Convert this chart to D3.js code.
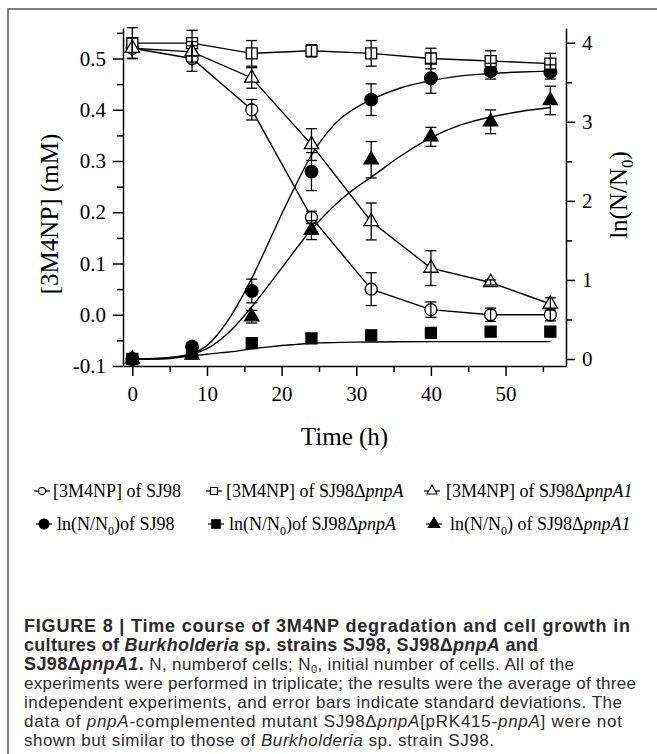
<!DOCTYPE html>
<html lang="en">
<head>
<meta charset="UTF-8">
<title>Figure 8</title>
<script src="https://cdn.jsdelivr.net/npm/d3@7"></script>
<style>
  body { margin: 0; background: #fff; }
  svg { display: block; }
</style>
</head>
<body>
<div id="container"></div>
<script>
// sampling times (h)
const hours = [0, 8, 16, 24, 32, 40, 48, 56];

// [3M4NP] (mM), left axis
const npSJ98 = [0.52, 0.50, 0.40, 0.19, 0.05, 0.01, 0.00, 0.00];
const npSJ98Err = [0.02, 0.025, 0.02, 0.012, 0.032, 0.015, 0.013, 0.012];
const npPnpA = [0.53, 0.53, 0.51, 0.515, 0.51, 0.50, 0.495, 0.49];
const npPnpAErr = [0.03, 0.025, 0.025, 0.012, 0.025, 0.02, 0.02, 0.02];
const npPnpA1 = [0.52, 0.513, 0.462, 0.332, 0.182, 0.091, 0.063, 0.021];
const npPnpA1Err = [0.02, 0.02, 0.02, 0.031, 0.036, 0.034, 0.005, 0.012];

// ln(N/N0), right axis
const lnSJ98 = [0.0, 0.155, 0.86, 2.37, 3.28, 3.55, 3.64, 3.63];
const lnSJ98Err = [0.03, 0.05, 0.15, 0.24, 0.2, 0.19, 0.1, 0.09];
const lnPnpA = [0.0, 0.07, 0.2, 0.26, 0.3, 0.33, 0.345, 0.345];
const lnPnpAErr = [0.01, 0.01, 0.01, 0.01, 0.01, 0.01, 0.01, 0.01];
const lnPnpA1 = [0.0, 0.05, 0.535, 1.63, 2.52, 2.81, 3.0, 3.27];
const lnPnpA1Err = [0.02, 0.03, 0.08, 0.12, 0.23, 0.12, 0.15, 0.18];

// fitted growth curves
const fitHours = [0, 4, 8, 10, 12, 14, 16, 18, 20, 22, 24, 26, 28, 30, 32, 36, 40, 44, 48, 52, 56];
const fitSJ98 = [0, 0.01, 0.07, 0.17, 0.38, 0.67, 1.02, 1.42, 1.83, 2.22, 2.58, 2.85, 3.05, 3.18, 3.28, 3.43, 3.52, 3.58, 3.61, 3.63, 3.64];
const fitPnpA = [0, 0.0, 0.04, 0.06, 0.08, 0.1, 0.13, 0.15, 0.17, 0.185, 0.2, 0.205, 0.21, 0.213, 0.215, 0.218, 0.22, 0.22, 0.22, 0.22, 0.22];
const fitPnpA1 = [0, 0.01, 0.06, 0.13, 0.26, 0.44, 0.66, 0.9, 1.15, 1.4, 1.64, 1.84, 2.02, 2.17, 2.3, 2.57, 2.8, 2.96, 3.06, 3.13, 3.18];

// ticks
const xMajor = [0, 10, 20, 30, 40, 50];
const xMinor = [5, 15, 25, 35, 45, 55];
const yLMajor = [-0.1, 0, 0.1, 0.2, 0.3, 0.4, 0.5];
const yLMinor = [-0.05, 0.05, 0.15, 0.25, 0.35, 0.45, 0.55];
const yRMajor = [0, 1, 2, 3, 4];
const yRMinor = [0.5, 1.5, 2.5, 3.5];

const W = 657, H = 754;
const serif = "'Liberation Serif', 'Times New Roman', serif";
const sans = "'Liberation Sans', Arial, sans-serif";

const svg = d3.select("#container").append("svg")
    .attr("width", W).attr("height", H);

// frame
svg.append("path")
    .attr("d", "M8,760V9H660")
    .attr("fill", "none").attr("stroke", "#555").attr("stroke-width", 1.5);

const x = d3.scaleLinear().domain([-1.25, 58.1]).range([123, 566]);
const yL = d3.scaleLinear().domain([-0.1, 0.5595]).range([366, 28]);
const yR = d3.scaleLinear().domain([-0.0885, 4.186]).range([366, 28]);

function styleAxis(g) {
    g.attr("font-family", serif).attr("font-size", 21);
    g.selectAll("path, line").attr("stroke", "#000").attr("stroke-width", 1.5);
    g.selectAll("text").attr("fill", "#000");
}

// bottom axis
svg.append("g").attr("transform", "translate(0,366)")
    .call(d3.axisBottom(x).tickValues(xMajor).tickSize(10).tickSizeOuter(0).tickPadding(10).tickFormat(d3.format("d")))
    .call(styleAxis);
svg.append("g").attr("transform", "translate(0,366)")
    .call(d3.axisBottom(x).tickValues(xMinor).tickSize(6).tickFormat(""))
    .call(g => g.select(".domain").remove())
    .call(styleAxis);

// left axis
svg.append("g").attr("transform", "translate(123,0)")
    .call(d3.axisLeft(yL).tickValues(yLMajor).tickSize(10).tickSizeOuter(0).tickPadding(7).tickFormat(d => d.toFixed(1)))
    .call(styleAxis);
svg.append("g").attr("transform", "translate(123,0)")
    .call(d3.axisLeft(yL).tickValues(yLMinor).tickSize(6).tickFormat(""))
    .call(g => g.select(".domain").remove())
    .call(styleAxis);

// right axis
svg.append("g").attr("transform", "translate(566,0)")
    .call(d3.axisRight(yR).tickValues(yRMajor).tickSize(9).tickSizeOuter(0).tickPadding(7).tickFormat(d3.format("d")))
    .call(styleAxis);
svg.append("g").attr("transform", "translate(566,0)")
    .call(d3.axisRight(yR).tickValues(yRMinor).tickSize(6).tickFormat(""))
    .call(g => g.select(".domain").remove())
    .call(styleAxis);

// axis titles
svg.append("text").attr("transform", "translate(58,214) rotate(-90)")
    .attr("text-anchor", "middle").attr("font-family", serif).attr("font-size", 25)
    .text("[3M4NP] (mM)");
const rt = svg.append("text").attr("transform", "translate(627,195) rotate(-90)")
    .attr("text-anchor", "middle").attr("font-family", serif).attr("font-size", 25);
rt.append("tspan").text("ln(N/N");
rt.append("tspan").attr("dy", 6).attr("font-size", 17).text("0");
rt.append("tspan").attr("dy", -6).text(")");
svg.append("text").attr("x", 344.5).attr("y", 445)
    .attr("text-anchor", "middle").attr("font-family", serif).attr("font-size", 25)
    .text("Time (h)");

// series
const zipL = (v) => hours.map((h, i) => [h, v[i]]);
const openSeries = [
    { vals: npSJ98, err: npSJ98Err, sym: d3.symbolCircle, size: 113 },
    { vals: npPnpA, err: npPnpAErr, sym: d3.symbolSquare, size: 121 },
    { vals: npPnpA1, err: npPnpA1Err, sym: d3.symbolTriangle, size: 88 }
];
const filledSeries = [
    { vals: lnSJ98, err: lnSJ98Err, fit: fitSJ98, sym: d3.symbolCircle, size: 125 },
    { vals: lnPnpA, err: lnPnpAErr, fit: fitPnpA, sym: d3.symbolSquare, size: 121 },
    { vals: lnPnpA1, err: lnPnpA1Err, fit: fitPnpA1, sym: d3.symbolTriangle, size: 88 }
];

const plot = svg.append("g");

// fitted curves
const fitLine = d3.line().x(d => x(d[0])).y(d => yR(d[1])).curve(d3.curveMonotoneX);
filledSeries.forEach(s => {
    plot.append("path")
        .attr("d", fitLine(fitHours.map((h, i) => [h, s.fit[i]])))
        .attr("fill", "none").attr("stroke", "#000").attr("stroke-width", 1.4);
});

// straight connecting lines for [3M4NP]
const segLine = d3.line().x(d => x(d[0])).y(d => yL(d[1]));
openSeries.forEach(s => {
    plot.append("path")
        .attr("d", segLine(zipL(s.vals)))
        .attr("fill", "none").attr("stroke", "#000").attr("stroke-width", 1.4);
});

function drawMarkers(s, y, filled) {
    plot.append("g").selectAll("path")
        .data(zipL(s.vals))
        .join("path")
        .attr("transform", d => `translate(${x(d[0])},${y(d[1])})`)
        .attr("d", d3.symbol(s.sym, s.size))
        .attr("fill", filled ? "#000" : "#fff")
        .attr("stroke", "#000").attr("stroke-width", 1.3);
}
function drawErrors(s, y) {
    const g = plot.append("g").attr("stroke", "#000").attr("stroke-width", 1.3);
    hours.forEach((h, i) => {
        const cx = x(h), top = y(s.vals[i] + s.err[i]), bot = y(s.vals[i] - s.err[i]);
        g.append("line").attr("x1", cx).attr("x2", cx).attr("y1", top).attr("y2", bot);
        g.append("line").attr("x1", cx - 5.5).attr("x2", cx + 5.5).attr("y1", top).attr("y2", top);
        g.append("line").attr("x1", cx - 5.5).attr("x2", cx + 5.5).attr("y1", bot).attr("y2", bot);
    });
}
filledSeries.forEach(s => drawMarkers(s, yR, true));
openSeries.forEach(s => drawMarkers(s, yL, false));
filledSeries.forEach(s => drawErrors(s, yR));
openSeries.forEach(s => drawErrors(s, yL));

// legend
const legendItems = [
    { cx: 42, cy: 491, tx: 53, sym: d3.symbolCircle, size: 38, filled: false, parts: [["[3M4NP] of SJ98"]] },
    { cx: 214, cy: 491, tx: 226, sym: d3.symbolSquare, size: 49, filled: false, parts: [["[3M4NP] of SJ98Δ"], ["pnpA", "i"]] },
    { cx: 432, cy: 491, tx: 446, sym: d3.symbolTriangle, size: 45, filled: false, parts: [["[3M4NP] of SJ98Δ"], ["pnpA1", "i"]] },
    { cx: 44, cy: 524, tx: 57, sym: d3.symbolCircle, size: 80, filled: true, parts: [["ln(N/N"], ["0", "sub"], [")of SJ98"]] },
    { cx: 216, cy: 524, tx: 229, sym: d3.symbolSquare, size: 72, filled: true, parts: [["ln(N/N"], ["0", "sub"], [")of SJ98Δ"], ["pnpA", "i"]] },
    { cx: 434, cy: 524, tx: 450, sym: d3.symbolTriangle, size: 58, filled: true, parts: [["ln(N/N"], ["0", "sub"], [") of SJ98Δ"], ["pnpA1", "i"]] }
];
const lg = svg.append("g");
legendItems.forEach(it => {
    lg.append("line").attr("x1", it.cx - 8).attr("x2", it.cx + 8)
        .attr("y1", it.cy).attr("y2", it.cy).attr("stroke", "#000").attr("stroke-width", 1.2);
    lg.append("path").attr("transform", `translate(${it.cx},${it.cy})`)
        .attr("d", d3.symbol(it.sym, it.size))
        .attr("fill", it.filled ? "#000" : "#fff").attr("stroke", "#000").attr("stroke-width", 1.1);
    const t = lg.append("text").attr("x", it.tx).attr("y", it.cy + 6)
        .attr("font-family", serif).attr("font-size", 18);
    let shifted = false;
    it.parts.forEach(([str, st]) => {
        const ts = t.append("tspan").text(str);
        if (st === "i") ts.attr("font-style", "italic");
        if (st === "sub") { ts.attr("dy", 5).attr("font-size", 12); shifted = true; }
        else if (shifted) { ts.attr("dy", -5); shifted = false; }
    });
});

// caption
const captionLines = [
    [["FIGURE 8 | Time course of 3M4NP degradation and cell growth in", "b"]],
    [["cultures of ", "b"], ["Burkholderia", "bi"], [" sp. strains SJ98, SJ98Δ", "b"], ["pnpA", "bi"], [" and", "b"]],
    [["SJ98Δ", "b"], ["pnpA1", "bi"], [".", "b"], [" N, numberof cells; N", "r"], ["0", "s"], [", initial number of cells. All of the", "r"]],
    [["experiments were performed in triplicate; the results were the average of three", "r"]],
    [["independent experiments, and error bars indicate standard deviations. The", "r"]],
    [["data of ", "r"], ["pnpA", "i"], ["-complemented mutant SJ98Δ", "r"], ["pnpA", "i"], ["[pRK415-", "r"], ["pnpA", "i"], ["] were not", "r"]],
    [["shown but similar to those of ", "r"], ["Burkholderia", "i"], [" sp. strain SJ98.", "r"]]
];
const captionEnds = [630, 538, 574, 636, 622, 622, 494];
const cap = svg.append("g").attr("font-family", sans).attr("fill", "#2a2a2a");
captionLines.forEach((parts, li) => {
    const t = cap.append("text").attr("x", 24).attr("y", 632 + li * 19).attr("font-size", 17);
    let shifted = false;
    parts.forEach(([str, st]) => {
        const ts = t.append("tspan").text(str);
        if (st === "b" || st === "bi") ts.attr("font-weight", "bold").attr("font-size", 18);
        if (st === "i" || st === "bi") ts.attr("font-style", "italic");
        if (st === "s") { ts.attr("dy", 3).attr("font-size", 11); shifted = true; }
        else if (shifted) { ts.attr("dy", -3); shifted = false; }
    });
    const len = t.node().getComputedTextLength();
    const target = captionEnds[li] - 24;
    if (Math.abs(len - target) > 2) t.attr("textLength", target).attr("lengthAdjust", "spacing");
});
</script>
</body>
</html>
